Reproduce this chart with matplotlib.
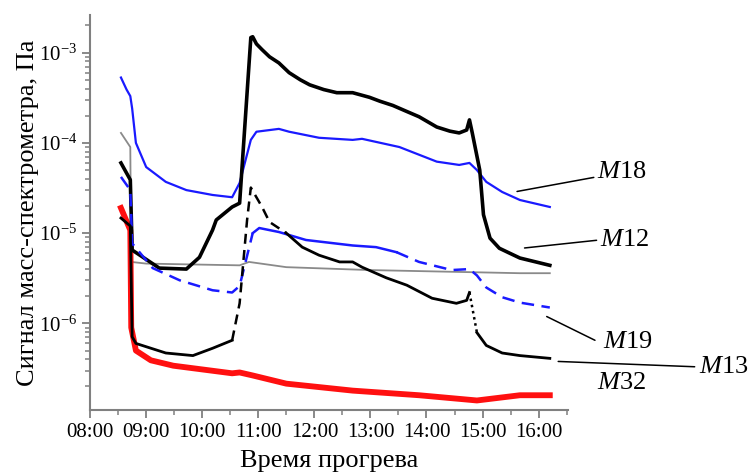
import numpy as np
import matplotlib
matplotlib.use("Agg")
import matplotlib.pyplot as plt
from matplotlib.ticker import MultipleLocator, LogLocator

plt.rcParams['font.family'] = ['Liberation Serif', 'DejaVu Serif']
plt.rcParams['mathtext.fontset'] = 'custom'
plt.rcParams['mathtext.rm'] = 'Liberation Serif'
plt.rcParams['mathtext.it'] = 'Liberation Serif:italic'

# --- данные (время прогрева, сигнал в Па) ---
m18_t = ["08:33", "08:39", "08:43", "08:45", "08:49", "09:00", "09:21", "09:43", "10:11", "10:32",
         "10:40", "10:52", "10:58", "11:22", "11:33", "12:05", "12:41", "12:51", "13:31", "13:52",
         "14:11", "14:35", "14:46", "14:54", "15:04", "15:21", "15:40", "16:12"]
m18_v = [5.3e-4, 3.9e-4, 3.3e-4, 2.4e-4, 1.0e-4, 5.4e-5, 3.7e-5, 3.0e-5, 2.65e-5, 2.5e-5,
         3.6e-5, 1.08e-4, 1.33e-4, 1.43e-4, 1.33e-4, 1.14e-4, 1.08e-4, 1.11e-4, 9.0e-5, 7.4e-5,
         6.2e-5, 5.7e-5, 6.0e-5, 5.0e-5, 3.7e-5, 2.86e-5, 2.33e-5, 1.95e-5]

m12_t = ["08:33", "08:43", "08:45", "09:14", "09:43", "09:57", "10:11", "10:15", "10:32", "10:40",
         "10:52", "10:54", "10:58", "11:04", "11:12", "11:22", "11:33", "11:45", "11:55", "12:10",
         "12:24", "12:41", "12:59", "13:10", "13:24", "13:38", "13:52", "14:11", "14:25", "14:35",
         "14:43", "14:46", "14:49", "14:57", "15:01", "15:08", "15:18", "15:29", "15:40", "16:12"]
m12_v = [6.0e-5, 3.9e-5, 6.5e-6, 4.1e-6, 4.0e-6, 5.4e-6, 1.08e-5, 1.4e-5, 1.95e-5, 2.15e-5,
         1.47e-3, 1.5e-3, 1.25e-3, 1.08e-3, 9.0e-4, 7.7e-4, 6.0e-4, 5.0e-4, 4.4e-4, 3.9e-4,
         3.6e-4, 3.6e-4, 3.2e-4, 2.9e-4, 2.6e-4, 2.25e-4, 1.95e-4, 1.5e-4, 1.35e-4, 1.29e-4,
         1.39e-4, 1.8e-4, 1.29e-4, 5.0e-5, 1.6e-5, 8.8e-6, 6.8e-6, 6.0e-6, 5.3e-6, 4.4e-6]

m13_t = ["08:33", "08:43", "08:45", "08:49", "09:21", "09:50", "10:11", "10:32", "10:40", "10:48",
         "10:52", "11:04", "11:12", "11:30", "11:47", "12:05", "12:27", "12:41", "12:51", "13:17",
         "13:39", "14:06", "14:32", "14:43", "14:46", "14:49", "14:54", "15:04", "15:21", "15:40",
         "16:12"]
m13_v = [1.47e-5, 1.2e-5, 7.1e-7, 6.0e-7, 4.7e-7, 4.4e-7, 5.3e-7, 6.5e-7, 1.67e-6, 1.4e-5,
         3.2e-5, 1.95e-5, 1.33e-5, 1.0e-5, 7.0e-6, 5.7e-6, 4.8e-6, 4.8e-6, 4.2e-6, 3.2e-6,
         2.65e-6, 1.9e-6, 1.67e-6, 1.8e-6, 2.2e-6, 1.5e-6, 7.9e-7, 5.7e-7, 4.7e-7, 4.4e-7,
         4.1e-7]

m19_t = ["08:33", "08:43", "08:45", "09:07", "09:36", "10:11", "10:32", "10:40", "10:54", "11:01",
         "11:22", "11:51", "12:41", "13:06", "13:28", "13:52", "14:27", "14:46", "14:54", "15:04",
         "15:21", "15:40", "16:12"]
m19_v = [4.2e-5, 3.0e-5, 7.7e-6, 4.1e-6, 3.0e-6, 2.33e-6, 2.2e-6, 2.6e-6, 1.0e-5, 1.14e-5,
         1.03e-5, 8.4e-6, 7.3e-6, 7.0e-6, 6.15e-6, 4.8e-6, 3.9e-6, 4.0e-6, 3.4e-6, 2.5e-6,
         1.95e-6, 1.7e-6, 1.5e-6]

gray_t = ["08:33", "08:43", "08:44", "09:00", "10:40", "10:50", "11:30", "12:59", "15:40", "16:12"]
gray_v = [1.29e-4, 9.0e-5, 4.8e-6, 4.6e-6, 4.4e-6, 4.8e-6, 4.2e-6, 3.9e-6, 3.6e-6, 3.6e-6]

m32_t = ["08:33", "08:43", "08:44", "08:49", "09:05", "09:29", "10:32", "10:40", "10:54", "11:30",
         "12:41", "13:52", "14:54", "15:40", "16:12"]
m32_v = [1.9e-5, 1.08e-5, 9.0e-7, 5.0e-7, 3.9e-7, 3.4e-7, 2.8e-7, 2.86e-7, 2.65e-7, 2.15e-7,
         1.8e-7, 1.6e-7, 1.4e-7, 1.6e-7, 1.6e-7]

hour_ticks = ["08:00", "09:00", "10:00", "11:00", "12:00", "13:00", "14:00", "15:00", "16:00"]


def hours(times):
    return np.array([int(s[:2]) + int(s[3:]) / 60 for s in times])


def part(t, v, a, b):
    # кусок кривой между временами a и b (включительно)
    t = hours(t)
    v = np.array(v)
    lo = hours([a])[0] if a else t[0]
    hi = hours([b])[0] if b else t[-1]
    m = (t >= lo - 1e-9) & (t <= hi + 1e-9)
    return t[m], v[m]


fig = plt.figure(figsize=(7.51, 4.75), dpi=100)
ax = fig.add_axes([0.12, 0.137, 0.636, 0.831])

ax.plot(hours(gray_t), gray_v, color='#8a8a8a', lw=1.3)
ax.plot(hours(m32_t), m32_v, color='#ff1010', lw=4.2)
ax.plot(hours(m18_t), m18_v, color='#1a1aff', lw=1.6)
ax.plot(hours(m12_t), m12_v, color='black', lw=2.6)

# M19: штрих / сплошная / штрих
ax.plot(*part(m19_t, m19_v, None, "10:54"), color='#1a1aff', lw=1.8, ls=(0, (5, 3)))
ax.plot(*part(m19_t, m19_v, "10:54", "13:28"), color='#1a1aff', lw=1.8)
ax.plot(*part(m19_t, m19_v, "13:28", None), color='#1a1aff', lw=1.8, ls=(0, (5, 3)))

# M13: сплошная / штрих / сплошная / точки / сплошная
ax.plot(*part(m13_t, m13_v, None, "10:32"), color='black', lw=2.0)
ax.plot(*part(m13_t, m13_v, "10:32", "11:30"), color='black', lw=1.8, ls=(0, (4, 2.5)))
ax.plot(*part(m13_t, m13_v, "11:30", "14:46"), color='black', lw=2.0)
ax.plot(*part(m13_t, m13_v, "14:46", "14:54"), color='black', lw=1.8, ls=(0, (1, 1.5)))
ax.plot(*part(m13_t, m13_v, "14:54", None), color='black', lw=2.0)

ax.set_yscale('log')
ax.set_ylim(1.1e-7, 2.6e-3)
ax.set_xlim(8.0, 16.52)
ax.set_xticks(hours(hour_ticks))
ax.set_xticklabels(hour_ticks)
ax.xaxis.set_minor_locator(MultipleLocator(0.5))
ax.yaxis.set_major_locator(LogLocator(base=10, numticks=12))
ax.yaxis.set_minor_locator(LogLocator(base=10, subs=np.arange(2, 10), numticks=12))

for s in ['top', 'right']:
    ax.spines[s].set_visible(False)
for s in ['left', 'bottom']:
    ax.spines[s].set_color('#808080')
    ax.spines[s].set_linewidth(1.5)
ax.tick_params(which='major', length=6, width=1.3, color='#808080', labelsize=15, direction='out')
ax.tick_params(which='minor', length=3.5, width=1.1, color='#808080', direction='out')

ax.set_xlabel('Время прогрева', fontsize=19, labelpad=6)
ax.set_ylabel('Сигнал масс-спектрометра, Па', fontsize=19, labelpad=0)

# подписи кривых с выносками
def tag(text, p0, p1, pos):
    if p0 is not None:
        ax.annotate('', xy=(hours([p0[0]])[0], p0[1]), xytext=(hours([p1[0]])[0], p1[1]),
                    arrowprops=dict(arrowstyle='-', color='black', lw=1.1),
                    annotation_clip=False)
    ax.text(hours([pos[0]])[0], pos[1], text, fontsize=19, va='center', ha='left',
            clip_on=False)

tag('$M$18', ("15:34", 2.86e-5), ("17:02", 4.2e-5), ("17:03", 4.8e-5))
tag('$M$12', ("15:42", 6.8e-6), ("17:05", 8.4e-6), ("17:06", 8.4e-6))
tag('$M$19', ("16:06", 1.23e-6), ("17:03", 6.3e-7), ("17:09", 6.3e-7))
tag('$M$13', ("16:18", 3.8e-7), ("18:50", 3.3e-7), ("18:52", 3.3e-7))
tag('$M$32', None, None, ("17:02", 2.2e-7))

fig.savefig('out.png', dpi=100)
